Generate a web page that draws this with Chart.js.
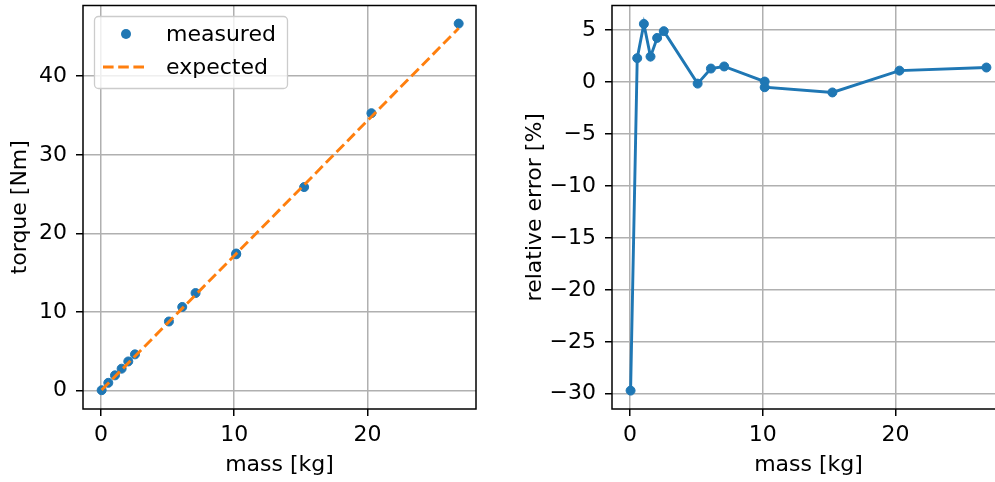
<!DOCTYPE html>
<html>
<head>
<meta charset="utf-8">
<script src="https://cdn.jsdelivr.net/npm/chart.js@4/dist/chart.umd.min.js"></script>
<style>
  html, body { margin: 0; padding: 0; background: #fff; overflow: hidden; }
  #wrap { position: relative; width: 995px; height: 482px; overflow: hidden; }
  canvas { position: absolute; top: 0; }
  #torqueChart { left: 0; }
  #errorChart { left: 500px; }
</style>
</head>
<body>
<div id="wrap">
  <canvas id="torqueChart" width="490" height="482"></canvas>
  <canvas id="errorChart" width="520" height="482"></canvas>
</div>
<script>
// data
const mass = [0.05, 0.55, 1.05, 1.55, 2.05, 2.55, 5.1, 6.1, 7.1, 10.15, 10.15, 15.25, 20.3, 26.85];
const measuredTorque = [0.06, 1.0, 1.95, 2.8, 3.72, 4.62, 8.8, 10.65, 12.42, 17.45, 17.35, 25.9, 35.3, 46.7];
const expectedTorque = [0.09, 0.94, 1.8, 2.66, 3.52, 4.38, 8.76, 10.47, 12.19, 17.43, 17.43, 26.18, 34.86, 46.1];
const relError = [-29.7, 2.3, 5.6, 2.45, 4.25, 4.9, -0.15, 1.3, 1.5, 0.05, -0.5, -1.0, 1.1, 1.4];

const massTicks = [0, 10, 20];
const torqueTicks = [0, 10, 20, 30, 40];
const errorTicks = [-30, -25, -20, -15, -10, -5, 0, 5];

const blue = '#1f77b4';
const orange = '#ff7f0e';

Chart.defaults.font.family = "'DejaVu Sans', sans-serif";
Chart.defaults.font.size = 22;
Chart.defaults.color = '#000';

const pts = (xs, ys) => xs.map((x, i) => ({ x: x, y: ys[i] }));
const fmt = v => (v < 0 ? '\u2212' + Math.abs(v) : String(v));

function axis(ticks, min, max, title, fixSize, horizontal, titlePad) {
  return {
    type: 'linear',
    min: min,
    max: max,
    afterBuildTicks: s => { s.ticks = ticks.map(v => ({ value: v })); },
    afterFit: s => {
      if (horizontal) s.height = fixSize; else s.width = fixSize;
      s.paddingTop = s.paddingBottom = s.paddingLeft = s.paddingRight = 0;
    },
    grid: { color: '#b0b0b0', lineWidth: 1.5, tickColor: '#000', tickWidth: 1.5, tickLength: 7 },
    border: { display: false },
    ticks: { padding: horizontal ? 6 : 9, maxRotation: 0, autoSkip: false, callback: v => fmt(v) },
    title: { display: true, text: title, padding: horizontal ? { top: 0, bottom: titlePad } : { top: titlePad, bottom: 0 } }
  };
}

// axes frame drawn over the lines like matplotlib spines
const frame = {
  id: 'frame',
  afterDatasetsDraw(chart) {
    const a = chart.chartArea, c = chart.ctx;
    c.save();
    c.strokeStyle = '#000';
    c.lineWidth = 1.5;
    c.strokeRect(a.left, a.top, a.right - a.left, a.bottom - a.top);
    c.restore();
  }
};

const boxLegend = {
  id: 'boxLegend',
  afterDraw(chart) {
    const c = chart.ctx;
    c.save();
    c.fillStyle = 'rgba(255,255,255,0.8)';
    c.strokeStyle = '#cccccc';
    c.lineWidth = 1.3;
    c.beginPath();
    c.roundRect(94.5, 16.5, 193, 72, 4);
    c.fill();
    c.stroke();
    c.font = "22px 'DejaVu Sans', sans-serif";
    c.textBaseline = 'middle';
    chart.data.datasets.forEach((ds, i) => {
      const y = 35 + i * 33;
      if (ds.showLine) {
        c.strokeStyle = ds.borderColor;
        c.lineWidth = ds.borderWidth;
        c.setLineDash(ds.borderDash);
        c.beginPath();
        c.moveTo(103, y - 1);
        c.lineTo(148, y - 1);
        c.stroke();
        c.setLineDash([]);
      } else {
        c.fillStyle = ds.backgroundColor;
        c.beginPath();
        c.arc(126, y - 1, 5, 0, Math.PI * 2);
        c.fill();
      }
      c.fillStyle = '#000';
      c.fillText(ds.label, 166, y);
    });
    c.restore();
  }
};

window.addEventListener('load', () => {
  new Chart(document.getElementById('torqueChart').getContext('2d'), {
    type: 'scatter',
    data: {
      datasets: [{
        label: 'measured',
        data: pts(mass, measuredTorque),
        showLine: false,
        backgroundColor: blue,
        borderColor: blue,
        pointRadius: 4.5,
        pointBorderWidth: 1,
        order: 1
      }, {
        label: 'expected',
        data: pts(mass, expectedTorque),
        showLine: true,
        borderColor: orange,
        backgroundColor: orange,
        borderWidth: 2.9,
        borderDash: [10.6, 4.6],
        pointRadius: 0,
        order: 0
      }]
    },
    options: {
      responsive: false,
      animation: false,
      devicePixelRatio: 1,
      layout: { padding: { left: 0, right: 14, top: 5, bottom: 0 } },
      plugins: { legend: { display: false }, tooltip: { enabled: false } },
      scales: {
        x: axis(massTicks, -1.35, 28.15, 'mass [kg]', 73, true, 4),
        y: axis(torqueTicks, -2.33, 49.0, 'torque [Nm]', 83, false, 7)
      }
    },
    plugins: [frame, boxLegend]
  });

  new Chart(document.getElementById('errorChart').getContext('2d'), {
    type: 'scatter',
    data: {
      datasets: [{
        label: 'relative error',
        data: pts(mass, relError),
        showLine: true,
        borderColor: blue,
        backgroundColor: blue,
        borderWidth: 2.9,
        pointRadius: 4.5,
        pointBorderWidth: 1
      }]
    },
    options: {
      responsive: false,
      animation: false,
      devicePixelRatio: 1,
      layout: { padding: { left: 0, right: 15, top: 5, bottom: 0 } },
      plugins: { legend: { display: false }, tooltip: { enabled: false } },
      scales: {
        x: axis(massTicks, -1.35, 28.25, 'mass [kg]', 73, true, 4),
        y: axis(errorTicks, -31.47, 7.37, 'relative error [%]', 112, false, 22)
      }
    },
    plugins: [frame]
  });
});
</script>
</body>
</html>
